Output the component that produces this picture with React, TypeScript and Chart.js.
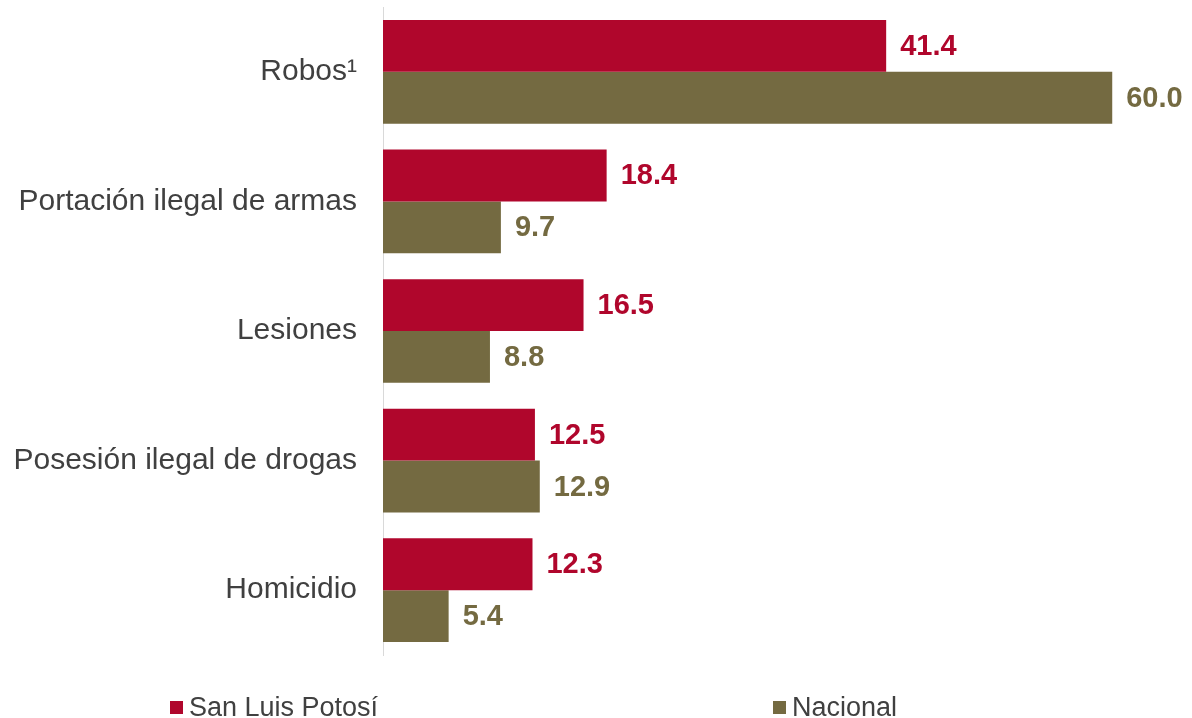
import React, { useEffect, useRef } from "react";
import { Chart, registerables } from "chart.js";

Chart.register(...registerables);

const categories = ["Robos¹", "Portación ilegal de armas", "Lesiones", "Posesión ilegal de drogas", "Homicidio"];
const seriesNames = ["San Luis Potosí", "Nacional"];
const slpValues = [41.4, 18.4, 16.5, 12.5, 12.3];
const nacionalValues = [60.0, 9.7, 8.8, 12.9, 5.4];

const RED = "#B0062C";
const OLIVE = "#746A41";
const FONT = "'Liberation Sans', Arial, sans-serif";

const valueLabels = {
  id: "valueLabels",
  afterDatasetsDraw(chart: any) {
    const ctx = chart.ctx;
    ctx.save();
    ctx.font = `bold 29px ${FONT}`;
    ctx.textBaseline = "middle";
    ctx.textAlign = "left";
    chart.data.datasets.forEach((ds: any, i: number) => {
      const meta = chart.getDatasetMeta(i);
      ctx.fillStyle = ds.backgroundColor;
      meta.data.forEach((bar: any, j: number) => {
        ctx.fillText(Number(ds.data[j]).toFixed(1), bar.x + 14, bar.y + 1);
      });
    });
    ctx.restore();
  },
};

const bottomLegend = {
  id: "bottomLegend",
  afterDraw(chart: any) {
    const ctx = chart.ctx;
    const xs = [170, 773];
    ctx.save();
    ctx.font = `27px ${FONT}`;
    ctx.textBaseline = "alphabetic";
    ctx.textAlign = "left";
    chart.data.datasets.forEach((ds: any, i: number) => {
      ctx.fillStyle = ds.backgroundColor;
      ctx.fillRect(xs[i], 701, 13, 13);
      ctx.fillStyle = "#404040";
      ctx.fillText(ds.label, xs[i] + 19, 716);
    });
    ctx.restore();
  },
};

export default function App() {
  const ref = useRef<HTMLCanvasElement>(null);
  useEffect(() => {
    if (!ref.current) return;
    const chart = new Chart(ref.current, {
      type: "bar",
      data: {
        labels: categories,
        datasets: [
          { label: seriesNames[0], data: slpValues, backgroundColor: RED, categoryPercentage: 0.8, barPercentage: 1.0 },
          { label: seriesNames[1], data: nacionalValues, backgroundColor: OLIVE, categoryPercentage: 0.8, barPercentage: 1.0 },
        ],
      },
      options: {
        indexAxis: "y",
        animation: false,
        responsive: false,
        maintainAspectRatio: false,
        layout: { padding: { top: 7, bottom: 63, left: 0, right: 19 } },
        plugins: { legend: { display: false }, tooltip: { enabled: false } },
        scales: {
          x: { display: false, min: 0, max: 65 },
          y: {
            afterFit: (s: any) => {
              s.width = 383;
              s.paddingTop = 0;
              s.paddingBottom = 0;
            },
            grid: { display: false, drawTicks: false },
            border: { display: true, color: "#D9D9D9", width: 1 },
            ticks: { padding: 26, color: "#404040", font: { family: FONT, size: 30 } },
          },
        },
      },
      plugins: [valueLabels, bottomLegend],
    });
    return () => chart.destroy();
  }, []);
  return (
    <div style={{ position: "absolute", left: 0, top: 0, width: 1192, height: 718, overflow: "hidden", background: "#fff" }}>
      <canvas ref={ref} width={1192} height={718} style={{ width: 1192, height: 718 }} />
    </div>
  );
}
